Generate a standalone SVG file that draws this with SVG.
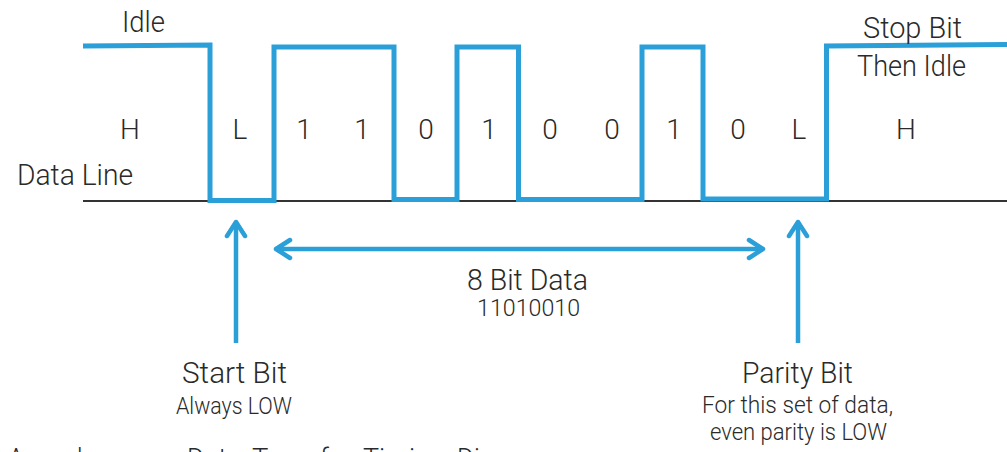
<svg xmlns="http://www.w3.org/2000/svg" width="1007" height="452" viewBox="0 0 1007 452">
  <style>
    text { font-family: Roboto, "Liberation Sans", sans-serif; font-weight: 300; fill: #2a2a2a; }
    .big { font-size: 30px; }
    .bit { font-size: 28px; text-anchor: middle; }
    .small { font-size: 24px; }
    .sig { fill: none; stroke: #2a9fd8; stroke-width: 5; stroke-linejoin: miter; }
    .arrow { fill: none; stroke: #2a9fd8; stroke-width: 4.5; marker-end: url(#chev); }
    .both { marker-start: url(#chev); }
  </style>
  <defs>
    <marker id="chev" viewBox="-17 -12 20 24" refX="0" refY="0" markerWidth="20" markerHeight="24"
            markerUnits="userSpaceOnUse" orient="auto-start-reverse">
      <path d="M-14,-9 L0,0 L-14,9" fill="none" stroke="#2a9fd8" stroke-width="4.5"
            stroke-linecap="round" stroke-linejoin="round"/>
    </marker>
  </defs>

  <rect width="1007" height="452" fill="#ffffff"/>

  <!-- reference (ground) level of the data line -->
  <g id="ground">
    <line x1="83" y1="201" x2="1007" y2="201" stroke="#333333" stroke-width="2"/>
  </g>

  <!-- serial waveform: idle, start, 8 data bits, parity, stop/idle -->
  <g id="waveform">
    <path class="sig" d="M83,46 L210,45 L210,200.5 L274,200.5 L274,47 L394,47 L394,199.5 L457,199.5 L457,47 L518.5,47 L518.5,199.5 L642,199.5 L642,47 L703,47 L703,199 L826.5,199 L826.5,46 L1007,44.5"/>
  </g>

  <!-- level labels for each bit slot -->
  <g id="bit-levels">
    <text class="bit" x="130" y="139">H</text>
    <text class="bit" x="240" y="139">L</text>
    <text class="bit" x="304" y="139">1</text>
    <text class="bit" x="362" y="139">1</text>
    <text class="bit" x="426" y="139">0</text>
    <text class="bit" x="489" y="139">1</text>
    <text class="bit" x="550" y="139">0</text>
    <text class="bit" x="612" y="139">0</text>
    <text class="bit" x="674" y="139">1</text>
    <text class="bit" x="738" y="139">0</text>
    <text class="bit" x="799" y="139">L</text>
    <text class="bit" x="906" y="139">H</text>
  </g>

  <g id="idle-label">
    <text class="big" x="122" y="32" font-size="32" textLength="43" lengthAdjust="spacingAndGlyphs">Idle</text>
  </g>
  <g id="data-line-label">
    <text class="big" x="17" y="185" textLength="116" lengthAdjust="spacingAndGlyphs">Data Line</text>
  </g>
  <g id="stop-bit">
    <text class="big" x="863" y="38" textLength="99" lengthAdjust="spacingAndGlyphs">Stop Bit</text>
    <text class="big" x="857" y="76" textLength="109" lengthAdjust="spacingAndGlyphs">Then Idle</text>
  </g>

  <g id="data-bits">
    <text class="big" x="467" y="290" font-size="28" textLength="121" lengthAdjust="spacingAndGlyphs">8 Bit Data</text>
    <text class="small" x="477" y="316" font-size="23" textLength="103" lengthAdjust="spacingAndGlyphs">11010010</text>
  </g>

  <g id="start-bit">
    <text class="big" x="182" y="383" textLength="105" lengthAdjust="spacingAndGlyphs">Start Bit</text>
    <text class="small" x="176" y="414" textLength="116" lengthAdjust="spacingAndGlyphs">Always LOW</text>
  </g>

  <g id="parity-bit">
    <text class="big" x="742" y="383" textLength="111" lengthAdjust="spacingAndGlyphs">Parity Bit</text>
    <text class="small" x="702" y="413" textLength="191" lengthAdjust="spacingAndGlyphs">For this set of data,</text>
    <text class="small" x="710" y="440" textLength="177" lengthAdjust="spacingAndGlyphs">even parity is LOW</text>
  </g>

  <!-- pointer arrows -->
  <g id="connectors">
    <line class="arrow" x1="236" y1="343" x2="236" y2="222"/>
    <line class="arrow" x1="798" y1="343" x2="798" y2="222"/>
    <line class="arrow both" x1="276" y1="249" x2="763" y2="249"/>
  </g>

  <!-- caption, running off the lower edge -->
  <g id="caption">
    <text class="big" y="469">
      <tspan x="8" textLength="162" lengthAdjust="spacingAndGlyphs">Asynchronous</tspan>
      <tspan x="187" textLength="54" lengthAdjust="spacingAndGlyphs">Data</tspan>
      <tspan x="252" textLength="100" lengthAdjust="spacingAndGlyphs">Transfer</tspan>
      <tspan x="363" textLength="82" lengthAdjust="spacingAndGlyphs">Timing</tspan>
      <tspan x="457" textLength="96" lengthAdjust="spacingAndGlyphs">Diagram</tspan>
    </text>
  </g>
</svg>
